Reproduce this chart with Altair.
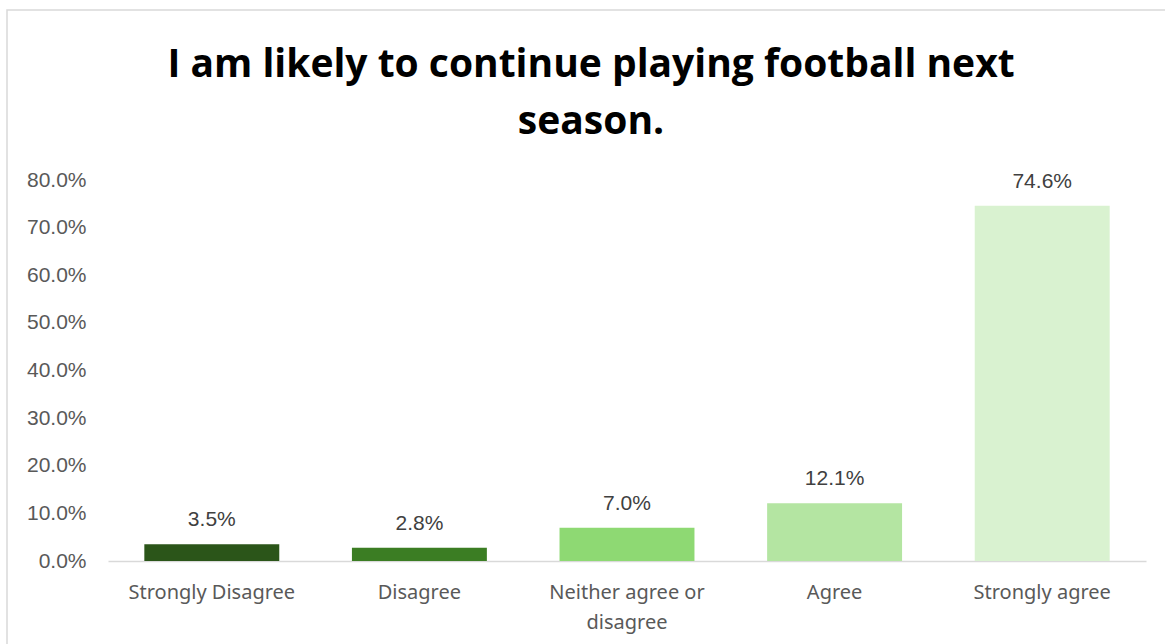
import altair as alt
import pandas as pd

categories = ["Strongly Disagree", "Disagree", "Neither agree or disagree", "Agree", "Strongly agree"]
values = [0.035, 0.028, 0.070, 0.121, 0.746]
colors = ["#2B5519", "#3B7D23", "#8ED973", "#B4E5A2", "#D9F2D0"]

df = pd.DataFrame({"category": categories, "value": values, "color": colors})

W, H = 1038, 381
PL, PT = 108, 180

base = alt.Chart(df)

bars = base.mark_bar().encode(
    x=alt.X("category:N", sort=categories, title=None,
            scale=alt.Scale(paddingInner=0.35, paddingOuter=0.175),
            axis=alt.Axis(labelAngle=0, labelFont="Noto Sans", labelFontSize=20,
                          labelColor="#595959", labelPadding=21, ticks=False,
                          domainColor="#D9D9D9", domainWidth=1.5,
                          labelExpr="datum.label == 'Neither agree or disagree' ? ['Neither agree or', 'disagree'] : datum.label",
                          labelLineHeight=30)),
    y=alt.Y("value:Q", title=None,
            scale=alt.Scale(domain=[0, 0.8]),
            axis=alt.Axis(format=".1%", values=[0, 0.1, 0.2, 0.3, 0.4, 0.5, 0.6, 0.7, 0.8],
                          labelFont="Liberation Sans", labelFontSize=21, labelColor="#595959",
                          labelPadding=22, ticks=False, domain=False, grid=False)),
    color=alt.Color("color:N", scale=None),
)

labels = base.mark_text(baseline="bottom", dy=-14, font="Liberation Sans", fontSize=21,
                        color="#404040").encode(
    x=alt.X("category:N", sort=categories),
    y="value:Q",
    text=alt.Text("value:Q", format=".1%"),
)

border = alt.Chart(pd.DataFrame({"a": [0]})).mark_rect(
    fill=None, stroke="#D9D9D9", strokeWidth=1.5
).encode(
    x=alt.value(7 - PL), x2=alt.value(1180 - PL),
    y=alt.value(10 - PT), y2=alt.value(660 - PT),
)

chart = alt.layer(border, bars, labels).properties(
    width=W, height=H,
    background="white",
    title=alt.TitleParams(
        text=["I am likely to continue playing football next", "season."],
        font="Open Sans", fontSize=39, fontWeight="bold", color="#000000",
        anchor="middle", dx=-36, dy=133, offset=0, lineHeight=57,
    ),
    padding={"left": PL, "top": PT, "right": 1165 - PL - W, "bottom": 644 - PT - H},
    autosize=alt.AutoSizeParams(type="none"),
).configure_view(stroke="transparent", strokeWidth=0)

chart.save("out.html", embed_options={"renderer": "svg", "actions": False})
